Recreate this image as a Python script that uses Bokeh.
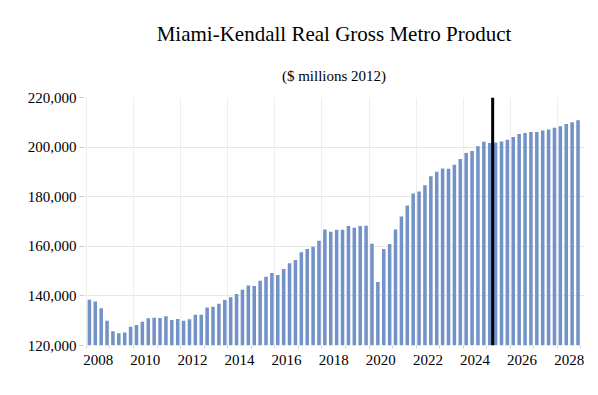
from bokeh.plotting import figure
from bokeh.models import Range1d, FixedTicker, NumeralTickFormatter, Span, Title, ColumnDataSource
from bokeh.embed import file_html
from bokeh.resources import INLINE

# ---- data ----
quarters = [f"{y}Q{q}" for y in range(2008, 2029) for q in range(1, 5)]
gmp = [
    138400, 137700, 135000, 130000,   # 2008
    125700, 124900, 125200, 127600,   # 2009
    128300, 129600, 131000, 131200,   # 2010
    131100, 131800, 130300, 130700,   # 2011
    130000, 130600, 132400, 132400,   # 2012
    135300, 135600, 136800, 138300,   # 2013
    139500, 140800, 142500, 144200,   # 2014
    144000, 146100, 147700, 149200,   # 2015
    148400, 150800, 153200, 154500,   # 2016
    157600, 158900, 159800, 162200,   # 2017
    166800, 165900, 166700, 166700,   # 2018
    168200, 167500, 168200, 168300,   # 2019
    161000, 145600, 158900, 160900,   # 2020
    166800, 172000, 176500, 181300,   # 2021
    182100, 184600, 188200, 190100,   # 2022
    191400, 191300, 192900, 195200,   # 2023
    197600, 198400, 200300, 202200,   # 2024
    201700, 201900, 202300, 203000,   # 2025
    204100, 205300, 205700, 206100,   # 2026
    206100, 206700, 207100, 207800,   # 2027
    208400, 209300, 210000, 210800,   # 2028
]
year_labels = ["2008", "2010", "2012", "2014", "2016", "2018", "2020",
               "2022", "2024", "2026", "2028"]
y_ticks = [120000, 140000, 160000, 180000, 200000, 220000]
forecast_start = "2025Q2"
title_text = "Miami-Kendall Real Gross Metro Product"
subtitle_text = "($ millions 2012)"

# ---- build ----
first_year = int(quarters[0][:4])
idx = [i + 0.5 for i in range(len(quarters))]
src = ColumnDataSource(dict(x=idx, v=gmp, q=quarters))

FONT = "Liberation Serif"

p = figure(width=590, height=386, output_backend="svg", toolbar_location=None,
           title=None,
           x_range=Range1d(-0.5, len(quarters) + 0.6),
           y_range=Range1d(y_ticks[0], y_ticks[-1]),
           min_border_left=83, min_border_right=6,
           min_border_top=97, min_border_bottom=41)
p.outline_line_color = None
p.background_fill_color = "white"
p.border_fill_color = "white"

p.vbar(x="x", top="v", bottom=y_ticks[0], width=0.6, source=src,
       fill_color="#7292C8", line_color=None)

p.add_layout(Span(location=quarters.index(forecast_start), dimension="height",
                  line_color="black", line_width=3))

# titles
p.add_layout(Title(text=subtitle_text, align="center", text_font=FONT,
                   text_font_size="15px", text_font_style="normal",
                   text_color="black", standoff=28), "above")
p.add_layout(Title(text=title_text, align="center", text_font=FONT,
                   text_font_size="21px", text_font_style="normal",
                   text_color="black", standoff=12), "above")

# x axis
year_centers = [(int(y) - first_year) * 4 + 2 for y in year_labels]
n_years = len(quarters) // 4
xa = p.xaxis[0]
xa.ticker = FixedTicker(ticks=year_centers,
                        minor_ticks=[k * 4 for k in range(n_years + 1)])
xa.major_label_overrides = {c: l for c, l in zip(year_centers, year_labels)}
xa.major_tick_line_color = None
xa.major_tick_out = 0
xa.minor_tick_line_color = "#d0d0d0"
xa.minor_tick_out = 3
xa.minor_tick_in = 0
xa.axis_line_color = None
xa.major_label_standoff = 6
xa.major_label_text_font = FONT
xa.major_label_text_font_size = "15px"
xa.major_label_text_color = "black"

# y axis
ya = p.yaxis[0]
ya.ticker = FixedTicker(ticks=y_ticks)
ya.formatter = NumeralTickFormatter(format="0,0")
ya.axis_line_color = None
ya.major_tick_line_color = "#c8c8c8"
ya.major_tick_out = 4
ya.major_tick_in = 0
ya.minor_tick_line_color = None
ya.major_label_standoff = 3
ya.major_label_text_font = FONT
ya.major_label_text_font_size = "15px"
ya.major_label_text_color = "black"

# grids
p.xgrid.ticker = FixedTicker(ticks=[k * 8 for k in range(n_years // 2 + 1)])
p.xgrid.grid_line_color = "#eeeeee"
p.ygrid.grid_line_color = "#e6e6e6"

open("out.html", "w").write(file_html(p, INLINE))
